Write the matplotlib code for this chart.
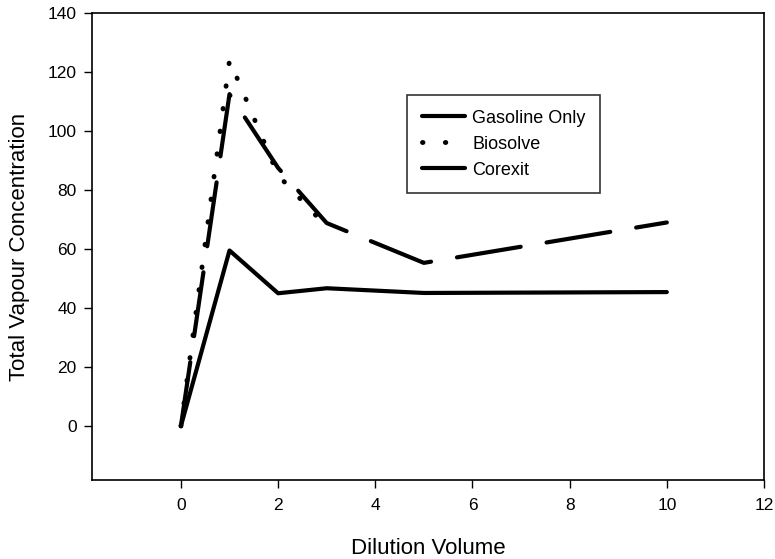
import matplotlib
matplotlib.use("Agg")
import matplotlib.pyplot as plt

plt.rcParams['font.family'] = ['Liberation Sans', 'DejaVu Sans']

# Data
gas_x = [0, 1, 2, 3, 5, 10]
gas_y = [0, 59.5, 45, 46.7, 45.1, 45.4]

bio_x = [0, 1, 2, 3]
bio_y = [0, 124, 85, 67.5]

cor_x = [0, 1, 2, 3, 5, 10]
cor_y = [0, 112.5, 87.5, 68.8, 55.3, 69]

x_ticks = [0, 2, 4, 6, 8, 10, 12]
y_ticks = [0, 20, 40, 60, 80, 100, 120, 140]

fig = plt.figure(figsize=(7.75, 5.59), dpi=100)
ax = fig.add_axes([92/775, 1-480/559, (764-92)/775, (480-13)/559])

lw = 3.0
ax.plot(gas_x, gas_y, color='black', lw=lw, solid_joinstyle='round',
        solid_capstyle='round', label='Gasoline Only', zorder=3)
ax.plot(bio_x, bio_y, color='black', lw=3.5, linestyle=(0, (0.1, 4.6)),
        dash_capstyle='round', label='Biosolve', zorder=2)
ax.plot(cor_x, cor_y, color='black', lw=lw, linestyle=(0, (15.5, 6.3)),
        dash_capstyle='round', dash_joinstyle='round', label='Corexit', zorder=2)

ax.set_xlim(-1.83, 12)
ax.set_ylim(-18.3, 140)
ax.set_xticks(x_ticks)
ax.set_yticks(y_ticks)
ax.tick_params(direction='out', length=6, width=1, labelsize=12.5)
ax.tick_params(axis='x', pad=7)
ax.tick_params(axis='y', pad=5)

for s in ax.spines.values():
    s.set_linewidth(1.2)
    s.set_color('black')

ax.set_xlabel('Dilution Volume', fontsize=16, labelpad=18)
ax.set_ylabel('Total Vapour Concentration', fontsize=16, labelpad=13)

leg = ax.legend(loc='upper left', bbox_to_anchor=(0.469, 0.824), borderaxespad=0,
                fontsize=13, handlelength=2.4, handletextpad=0.4,
                labelspacing=0.5, borderpad=0.8, fancybox=False, frameon=True)
leg.get_frame().set_edgecolor('black')
leg.get_frame().set_linewidth(1.2)

fig.savefig('out.png', dpi=100)
